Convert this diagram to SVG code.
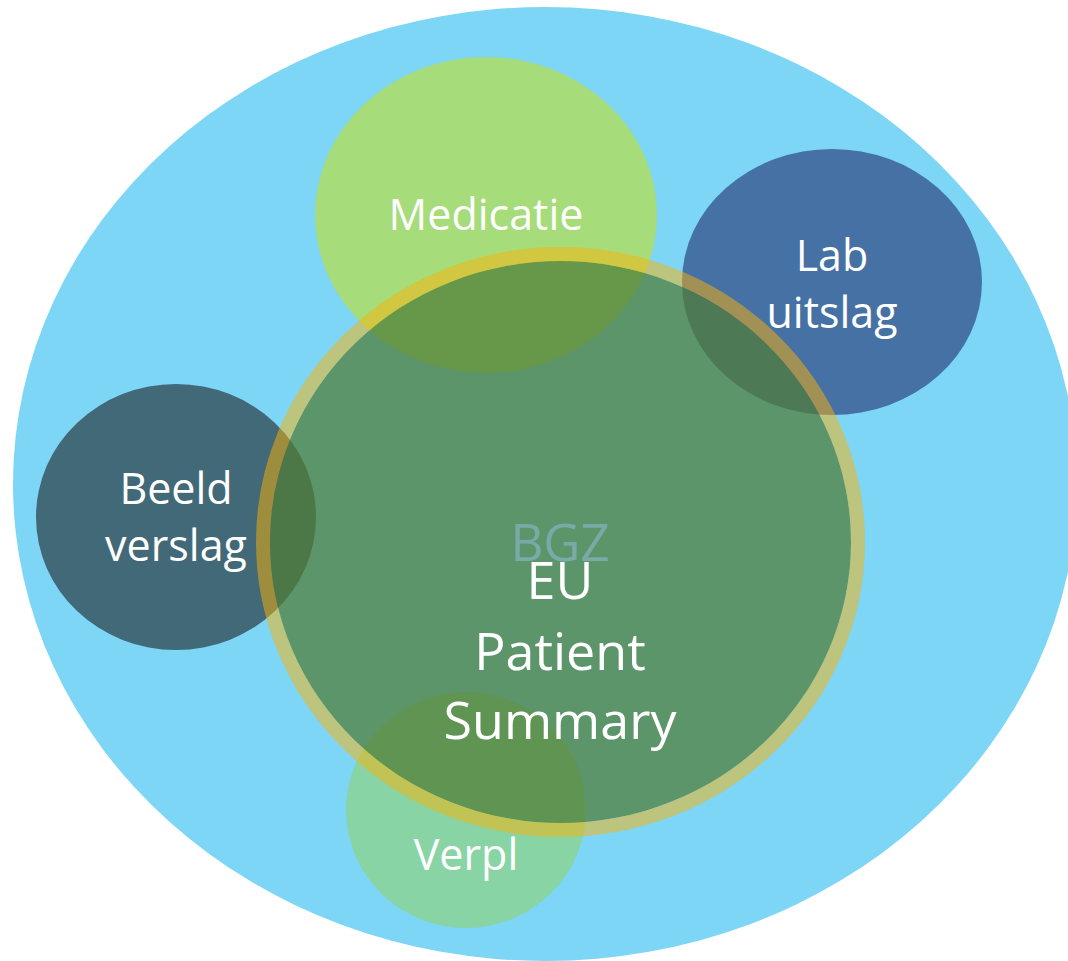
<svg xmlns="http://www.w3.org/2000/svg" width="1068" height="961" viewBox="0 0 1068 961">
<style>
.lbl{font-family:"Open Sans","Noto Sans","Liberation Sans",sans-serif;fill:#ffffff;text-anchor:middle}
.sm{font-size:43px}
.lg{font-size:52px}
</style>
<rect width="1068" height="961" fill="#ffffff"/>
<g id="outer">
<ellipse cx="545" cy="484" rx="532" ry="477" fill="#7dd6f6"/>
</g>
<g id="medicatie">
<ellipse cx="486" cy="215" rx="171" ry="158" fill="#a6dc7a"/>
<text class="lbl sm" x="486" y="230">Medicatie</text>
</g>
<g id="lab">
<ellipse cx="832" cy="282" rx="150" ry="133" fill="#4671a5"/>
<text class="lbl sm" x="832" y="271">Lab</text>
<text class="lbl sm" x="832" y="328">uitslag</text>
</g>
<g id="beeld">
<ellipse cx="176" cy="517" rx="140" ry="133" fill="#426977"/>
<text class="lbl sm" x="176" y="504">Beeld</text>
<text class="lbl sm" x="176" y="561">verslag</text>
</g>
<g id="verpl">
<ellipse cx="466" cy="810" rx="120" ry="118" fill="#88d4a4"/>
<text class="lbl sm" x="466" y="870">Verpl</text>
</g>
<g id="eu-patient-summary">
<ellipse cx="560.5" cy="542" rx="290.5" ry="281" fill="#507d36" fill-opacity="0.73"/>
<ellipse cx="560.5" cy="542" rx="297.5" ry="288" fill="none" stroke="#fbb206" stroke-opacity="0.5" stroke-width="14"/>
<text x="560" y="561" font-family="'Open Sans','Noto Sans',sans-serif" font-size="51" fill="#7aa9a8" text-anchor="middle">BGZ</text>
<text class="lbl lg" x="560" y="599">EU</text>
<text class="lbl lg" x="560" y="670">Patient</text>
<text class="lbl lg" x="560" y="739">Summary</text>
</g>
</svg>
